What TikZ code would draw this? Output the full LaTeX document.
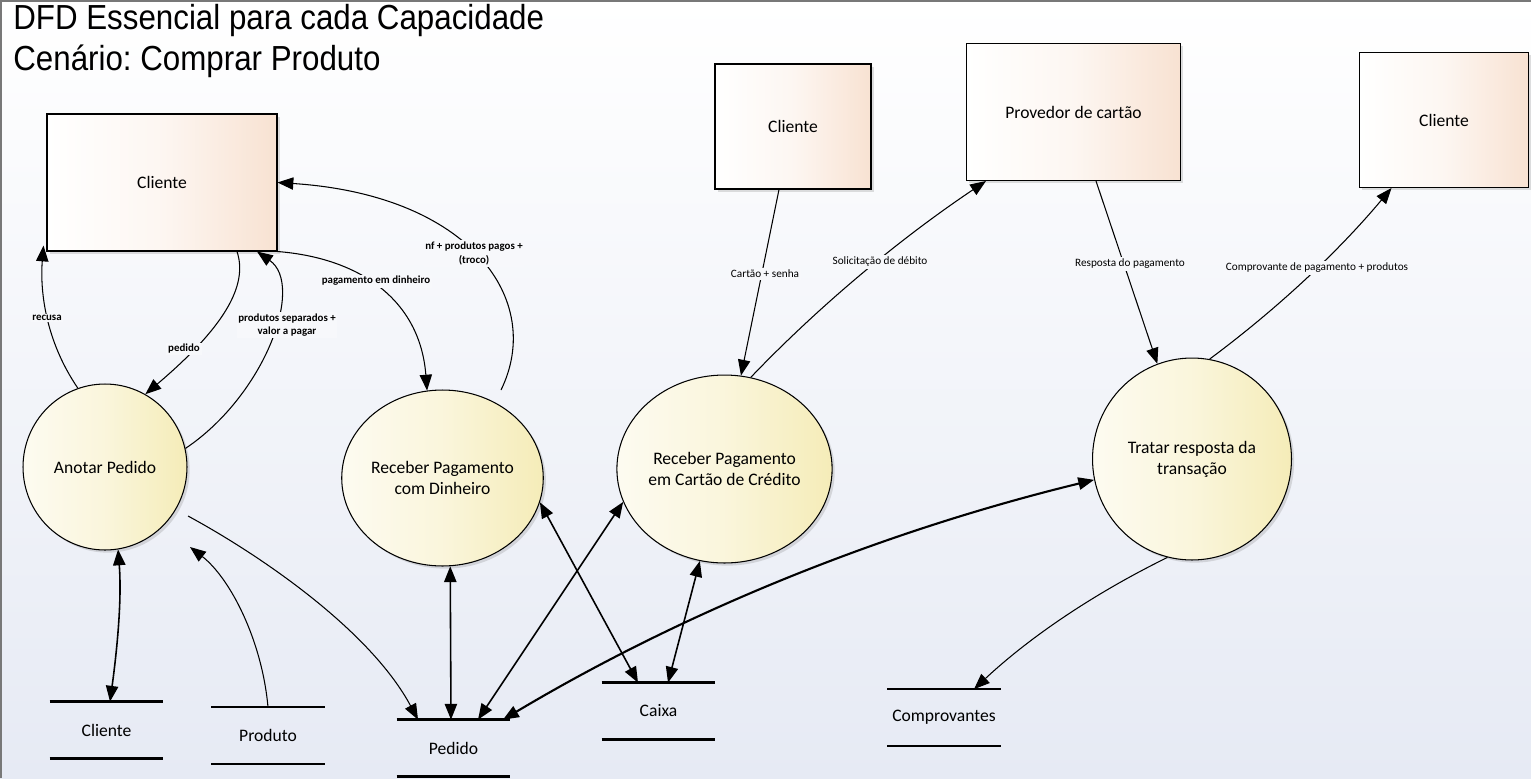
\documentclass[tikz,border=0pt]{standalone}
\usepackage{fontspec}
\setmainfont{Carlito}
\newfontfamily\titlefont[FakeStretch=0.9]{Liberation Sans}
\usetikzlibrary{arrows.meta,shapes.geometric,shadows}
\definecolor{entpeach}{RGB}{248,226,210}
\definecolor{procyel}{RGB}{245,236,184}
\definecolor{bgbot}{RGB}{230,234,244}
\definecolor{framegray}{RGB}{120,120,120}
\frenchspacing

\begin{document}
\begin{tikzpicture}[x=0.02cm, y=-0.02cm, >={Triangle[length=9pt,width=7pt]},
    every node/.style={font=\fontsize{10}{12}\selectfont},
    titletxt/.style={anchor=base west, inner sep=0pt, font=\titlefont\fontsize{19.8}{23}\selectfont},
    entity/.style={draw, line width=0.6pt, left color=white, right color=entpeach, middle color=entpeach!30!white,
        drop shadow={shadow xshift=1.5pt, shadow yshift=-1.5pt, opacity=0.25}},
    proc/.style={ellipse, draw, line width=0.6pt, align=center, inner sep=0pt,
        left color=procyel!20!white, right color=procyel, middle color=procyel!50!white,
        drop shadow={shadow xshift=1.5pt, shadow yshift=-1.5pt, opacity=0.25}},
    storeline/.style={line width=1.4pt},
    store/.style={minimum width=2.26cm, minimum height=1.12cm, inner sep=0pt,
        append after command={(\tikzlastnode.north west) edge[storeline] (\tikzlastnode.north east)
                              (\tikzlastnode.south west) edge[storeline] (\tikzlastnode.south east)}},
    flow/.style={line width=0.6pt},
    dflow/.style={line width=0.9pt},
    flowlab/.style={fill=bgbot!33!white, inner sep=1pt, align=center, font=\fontsize{6.2}{7.4}\selectfont\bfseries},
    flowlabr/.style={fill=bgbot!33!white, inner sep=1pt, align=center, font=\fontsize{6.4}{7.6}\selectfont}]

    \useasboundingbox (0,0) rectangle (1531,778);
    \fill[top color=white, bottom color=bgbot] (0,0) rectangle (1531,778);
    \draw[framegray, line width=1.4pt] (1,778) -- (1,0.5) -- (1531,0.5);

    % Title
    \node[titletxt] (T1) at (13,29.5) {DFD Essencial para cada Capacidade};
    \node[titletxt] (T2) at (13,70.5) {Cenário: Comprar Produto};

    % External entities
    \node[entity, minimum width=4.6cm,  minimum height=2.74cm] (E1) at (162,182.5) {Cliente};
    \node[entity, minimum width=3.12cm, minimum height=2.5cm]  (E2) at (793,126.5) {Cliente};
    \node[entity, minimum width=4.28cm, minimum height=2.74cm] (E3) at (1073.5,112) {Provedor de cartão};
    \node[entity, minimum width=3.38cm, minimum height=2.7cm]  (E4) at (1444,120) {Cliente};

    % Processes
    \node[proc, minimum width=3.28cm, minimum height=3.32cm] (A) at (105,467) {Anotar Pedido};
    \node[proc, minimum width=3.42cm, minimum height=3.52cm] (B) at (442.5,478) {Receber Pagamento\\com Dinheiro};
    \node[proc, minimum width=3.86cm, minimum height=3.76cm] (C) at (724.5,469) {Receber Pagamento\\em Cartão de Crédito};
    \node[proc, minimum width=3.98cm, minimum height=4.04cm] (D) at (1192,459) {Tratar resposta da\\transação};

    % Data stores
    \node[store] (S1) at (106.5,730) {Cliente};
    \node[store] (S2) at (268,735.5) {Produto};
    \node[store] (S3) at (453.5,748) {Pedido};
    \node[store] (S4) at (658.5,711) {Caixa};
    \node[store] (S5) at (944,717.5) {Comprovantes};

    % Free ends near the circles
    \coordinate (Bnf) at (501,390);
    \coordinate (Aprod) at (190,547);
    \coordinate (Aped) at (188,516);

    % Flows with the customer
    \draw[flow,->] (A.109) .. controls (45,340) and (40,290) .. ([xshift=-0.06cm,yshift=0.12cm]E1.south west);
    \draw[flow,->] ([xshift=1.5cm]E1.south) .. controls (250,290) and (215,335) .. (A.61);
    \draw[flow,->] (A.13) .. controls (265,395) and (305,285) .. ([xshift=1.9cm]E1.south);
    \draw[flow,->] (E1.south east) .. controls (360,258) and (420,300) .. (B.100);
    \draw[flow,->] (Bnf) .. controls (545,300) and (470,195) .. (E1.east);
    \draw[flow,->] ([xshift=-0.28cm]E2.south) -- (C.80);
    \draw[flow,->] (C.74) .. controls (821,304) and (901,238) .. ([xshift=0.4cm]E3.south west);
    \draw[flow,->] ([xshift=0.45cm]E3.south) -- (D.110);
    \draw[flow,->] (D.80) .. controls (1277,309) and (1338,252) .. ([xshift=0.65cm]E4.south west);

    % Flows with the stores
    \draw[dflow,<->] (A.279) .. controls (122,600) and (117,650) .. ([xshift=0.07cm]S1.north);
    \draw[flow,->] (S2.north) .. controls (262,640) and (230,578) .. (Aprod);
    \draw[flow,->] (Aped) .. controls (260,555) and (370,630) .. ([xshift=-0.71cm]S3.north);
    \draw[dflow,<->] (B.275) -- ([xshift=-0.05cm]S3.north);
    \draw[dflow,<->] (C.198) -- ([xshift=0.49cm]S3.north);
    \draw[line width=1.2pt,<->] ([xshift=0.99cm]S3.north) .. controls (687,610) and (884,531) .. (D.192);
    \draw[dflow,<->] (B.346) -- ([xshift=-0.41cm]S4.north);
    \draw[dflow,<->] (C.255) -- ([xshift=0.19cm]S4.north);
    \draw[flow,->] (D.256) .. controls (1095,593) and (1031,636) .. ([xshift=0.6cm]S5.north);

    % Flow labels
    \node[flowlab] (Lrec) at (47,318) {recusa};
    \node[flowlab] (Lped) at (184,349) {pedido};
    \node[flowlab] (Lsep) at (287,325) {produtos separados +\\valor a pagar};
    \node[flowlab] (Lpag) at (376,281) {pagamento em dinheiro};
    \node[flowlab] (Lnf)  at (474,253.5) {nf + produtos pagos +\\[1pt](troco)};
    \node[flowlabr] (Lcar) at (765,274) {Cartão + senha};
    \node[flowlabr] (Lsol) at (880,262) {Solicitação de débito};
    \node[flowlabr] (Lres) at (1130,264) {Resposta do pagamento};
    \node[flowlabr] (Lcom) at (1317,268) {Comprovante de pagamento + produtos};
\end{tikzpicture}
\end{document}
